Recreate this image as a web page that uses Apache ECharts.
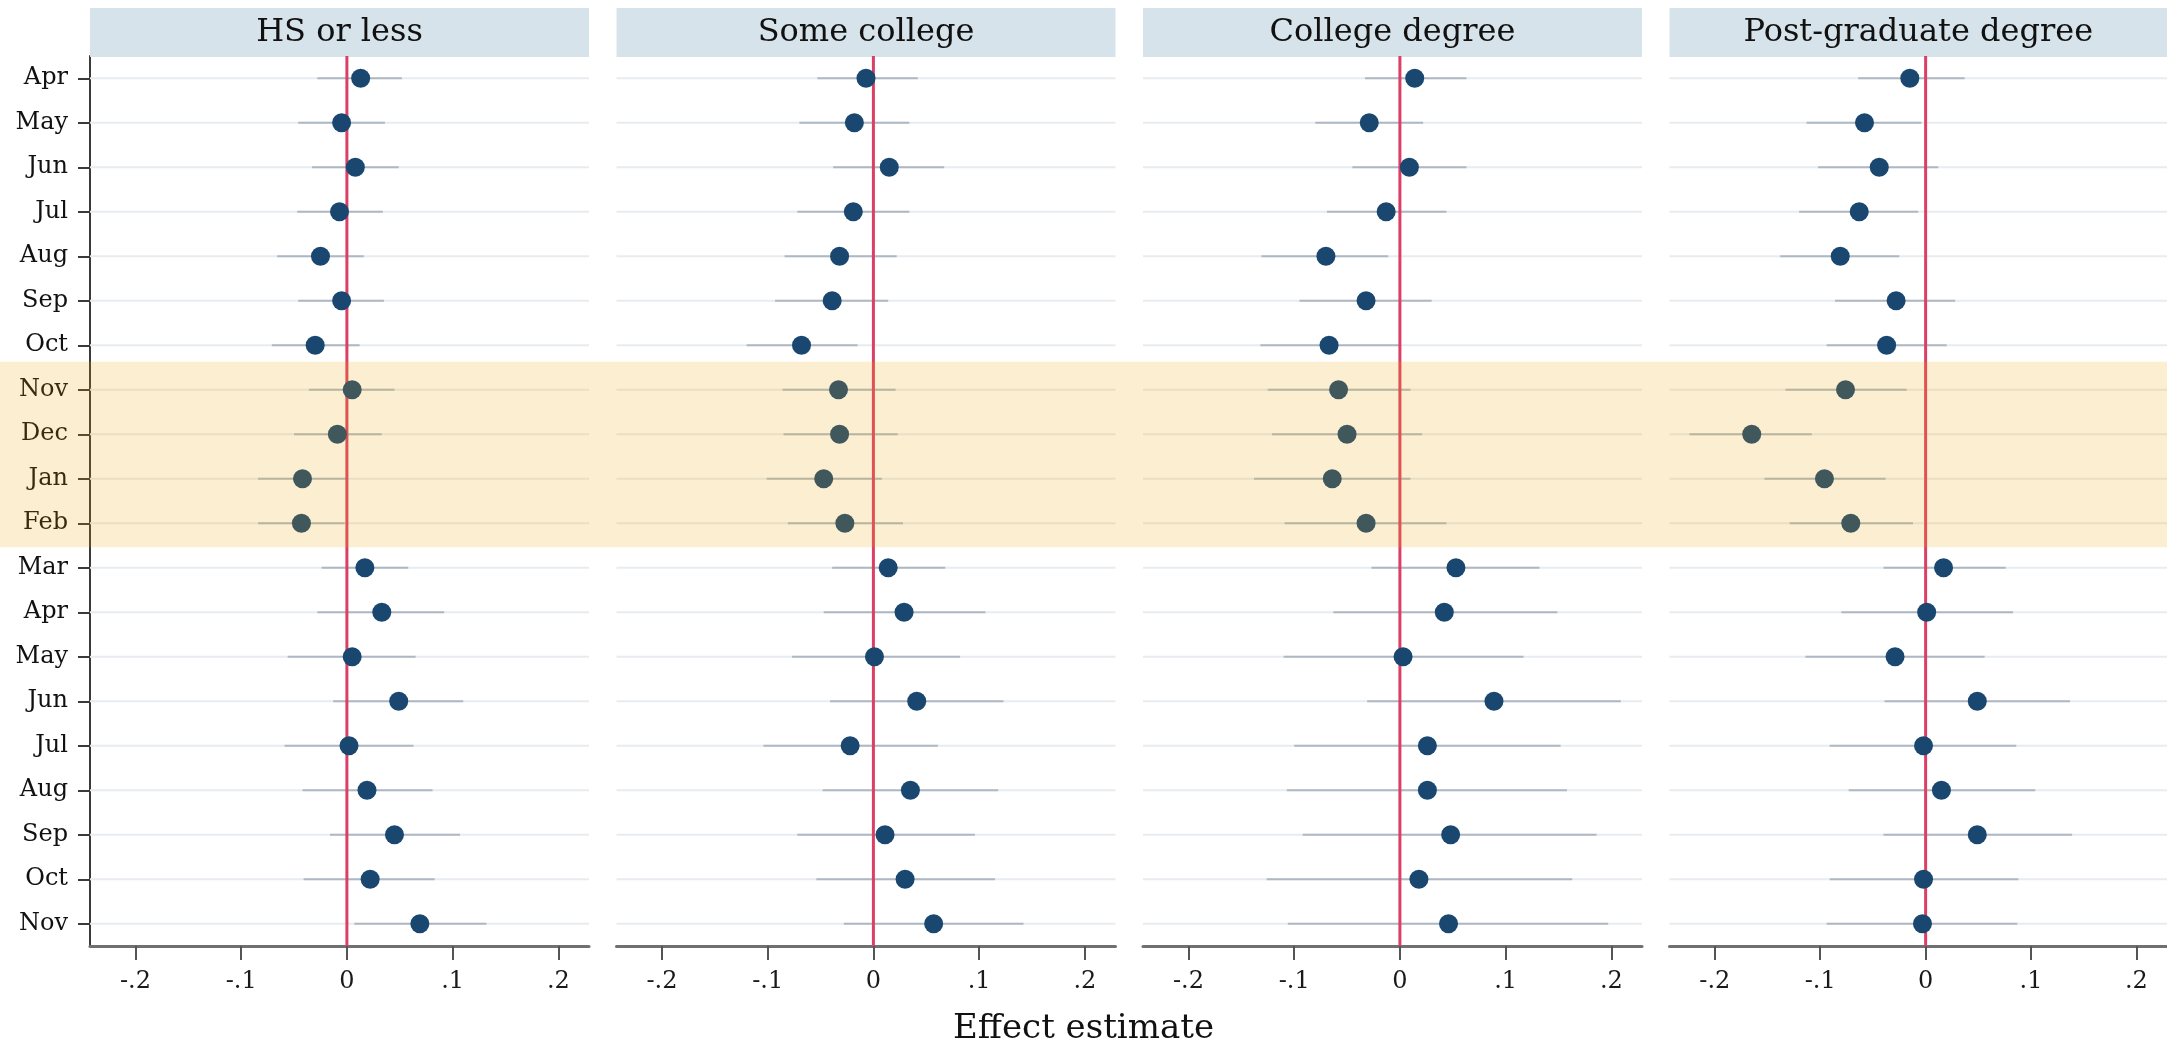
<!DOCTYPE html>
<html><head><meta charset="utf-8">
<script src="https://cdn.jsdelivr.net/npm/echarts@6/dist/echarts.min.js"></script>
<style>html,body{margin:0;padding:0;background:#fff}#c{width:2167px;height:1050px}</style>
</head><body><div id="c"></div>
<script>
// ---------- data ----------
const months = ['Apr','May','Jun','Jul','Aug','Sep','Oct','Nov','Dec','Jan','Feb','Mar','Apr','May','Jun','Jul','Aug','Sep','Oct','Nov'];
const panelNames = ['HS or less','Some college','College degree','Post-graduate degree'];

const estHS = [0.013,-0.005,0.008,-0.007,-0.025,-0.005,-0.030,0.005,-0.009,-0.042,-0.043,0.017,0.033,0.005,0.049,0.002,0.019,0.045,0.022,0.069];
const loHS  = [-0.028,-0.046,-0.033,-0.047,-0.066,-0.046,-0.071,-0.036,-0.050,-0.084,-0.084,-0.024,-0.028,-0.056,-0.013,-0.059,-0.042,-0.016,-0.041,0.007];
const hiHS  = [0.052,0.036,0.049,0.034,0.016,0.035,0.012,0.045,0.033,0.000,-0.002,0.058,0.092,0.065,0.110,0.063,0.081,0.107,0.083,0.132];

const estSC = [-0.007,-0.018,0.015,-0.019,-0.032,-0.039,-0.068,-0.033,-0.032,-0.047,-0.027,0.014,0.029,0.001,0.041,-0.022,0.035,0.011,0.030,0.057];
const loSC  = [-0.053,-0.070,-0.038,-0.072,-0.084,-0.093,-0.120,-0.086,-0.085,-0.101,-0.081,-0.039,-0.047,-0.077,-0.041,-0.104,-0.048,-0.072,-0.054,-0.028];
const hiSC  = [0.042,0.034,0.067,0.034,0.022,0.014,-0.015,0.021,0.023,0.008,0.028,0.068,0.106,0.082,0.123,0.061,0.118,0.096,0.115,0.142];

const estCD = [0.014,-0.029,0.009,-0.013,-0.070,-0.032,-0.067,-0.058,-0.050,-0.064,-0.032,0.053,0.042,0.003,0.089,0.026,0.026,0.048,0.018,0.046];
const loCD  = [-0.033,-0.080,-0.045,-0.069,-0.131,-0.095,-0.132,-0.125,-0.121,-0.138,-0.109,-0.027,-0.063,-0.110,-0.031,-0.100,-0.107,-0.092,-0.126,-0.106];
const hiCD  = [0.063,0.022,0.063,0.044,-0.011,0.030,-0.001,0.010,0.021,0.010,0.044,0.132,0.149,0.117,0.209,0.152,0.158,0.186,0.163,0.197];

const estPG = [-0.015,-0.058,-0.044,-0.063,-0.081,-0.028,-0.037,-0.076,-0.165,-0.096,-0.071,0.017,0.001,-0.029,0.049,-0.002,0.015,0.049,-0.002,-0.003];
const loPG  = [-0.064,-0.113,-0.102,-0.120,-0.138,-0.086,-0.094,-0.133,-0.224,-0.153,-0.129,-0.040,-0.080,-0.114,-0.039,-0.091,-0.073,-0.040,-0.091,-0.094];
const hiPG  = [0.037,-0.004,0.012,-0.007,-0.025,0.028,0.020,-0.018,-0.108,-0.038,-0.012,0.076,0.083,0.056,0.137,0.086,0.104,0.139,0.088,0.087];

const estimates = [estHS, estSC, estCD, estPG];
const lowers = [loHS, loSC, loCD, loPG];
const uppers = [hiHS, hiSC, hiCD, hiPG];

const xTickValues = [-0.2,-0.1,0,0.1,0.2];
const xTickLabels = ['-.2','-.1','0','.1','.2'];
const xMin = -0.243, xMax = 0.229;
const referenceValue = 0;
const shadedRows = [6.37, 10.54]; // Nov–Feb winter band, in row units
const xTitle = 'Effect estimate';

// ---------- layout / style ----------
const FONT = 'DejaVu Serif';
const lefts = [90, 616.5, 1143, 1669.5];
const PW = 499, TOP = 56, PH = 890;
const NAVY = '#1a476f';

const grid = lefts.map(l => ({left: l, top: TOP, width: PW, height: PH}));
grid.push({left: 0, right: 0, top: TOP, height: PH});

const xAxis = [];
lefts.forEach((l, i) => {
  xAxis.push({
    type: 'value', gridIndex: i, min: xMin, max: xMax, position: 'bottom',
    axisLine: {show: true, onZero: false, lineStyle: {color: '#707070', width: 3}},
    axisTick: {show: true, length: 14, customValues: xTickValues, lineStyle: {color: '#555', width: 2}},
    axisLabel: {customValues: xTickValues, margin: 24, fontFamily: FONT, fontSize: 24, color: '#1a1a1a',
      formatter: v => { const k = xTickValues.findIndex(t => Math.abs(t - v) < 1e-9); return k >= 0 ? xTickLabels[k] : ''; }},
    splitLine: {show: false}
  });
});
lefts.forEach((l, i) => {
  xAxis.push({
    type: 'category', gridIndex: i, position: 'top', offset: 23.5, data: [panelNames[i]],
    axisLine: {show: true, onZero: false, lineStyle: {color: '#d7e3ea', width: 49, cap: 'butt'}},
    axisTick: {show: false}, splitLine: {show: false},
    axisLabel: {interval: 0, margin: 0, verticalAlign: 'middle', fontFamily: FONT, fontSize: 32, color: '#111'}
  });
});
xAxis.push({type: 'value', gridIndex: 4, min: 0, max: 1, show: false});

const yAxis = lefts.map((l, i) => ({
  type: 'category', gridIndex: i, data: months, inverse: true,
  axisLine: {show: i === 0, onZero: false, lineStyle: {color: '#3a3a3a', width: 2}},
  axisTick: {show: i === 0, length: 12, alignWithLabel: true, lineStyle: {color: '#3a3a3a', width: 2}},
  axisLabel: {show: i === 0, interval: 0, margin: 22, fontFamily: FONT, fontSize: 24, color: '#111'},
  splitLine: {show: false}
}));
yAxis.push({type: 'value', gridIndex: 4, min: -0.5, max: 19.5, inverse: true, show: false});

const series = [];
lefts.forEach((l, i) => {
  // row grid lines
  series.push({
    type: 'custom', xAxisIndex: i, yAxisIndex: i, z: 1, silent: true,
    data: months.map((m, k) => [xMin, k]),
    encode: {x: 0, y: 1},
    renderItem: (params, api) => {
      const cs = params.coordSys;
      const y = api.coord([api.value(0), api.value(1)])[1];
      return {type: 'line', shape: {x1: cs.x, y1: y, x2: cs.x + cs.width, y2: y},
        style: {stroke: '#e8ecf0', lineWidth: 2}};
    }
  });
  // confidence intervals
  series.push({
    type: 'custom', xAxisIndex: i, yAxisIndex: i, z: 2, silent: true,
    data: months.map((m, k) => [lowers[i][k], uppers[i][k], k]),
    encode: {x: [0, 1], y: 2},
    renderItem: (params, api) => {
      const p1 = api.coord([api.value(0), api.value(2)]);
      const p2 = api.coord([api.value(1), api.value(2)]);
      return {type: 'line', shape: {x1: p1[0], y1: p1[1], x2: p2[0], y2: p2[1]},
        style: {stroke: '#aeb8c3', lineWidth: 2.2}};
    }
  });
  // zero reference line
  series.push({
    type: 'custom', xAxisIndex: i, yAxisIndex: i, z: 3, silent: true,
    data: [[referenceValue, 0]],
    encode: {x: 0, y: 1},
    renderItem: (params, api) => {
      const cs = params.coordSys;
      const x = api.coord([api.value(0), 0])[0];
      return {type: 'line', shape: {x1: x, y1: cs.y, x2: x, y2: cs.y + cs.height},
        style: {stroke: '#dc3f66', lineWidth: 3}};
    }
  });
  // point estimates
  series.push({
    type: 'scatter', xAxisIndex: i, yAxisIndex: i, z: 4, silent: true,
    symbolSize: 19, itemStyle: {color: NAVY, opacity: 1},
    data: estimates[i].map((v, k) => [v, k])
  });
});
// winter shading overlay
series.push({
  type: 'custom', xAxisIndex: 8, yAxisIndex: 4, z: 20, silent: true,
  data: [[0, shadedRows[0], shadedRows[1]]],
  encode: {x: 0, y: [1, 2]},
  renderItem: (params, api) => {
    const cs = params.coordSys;
    const y1 = api.coord([0, api.value(1)])[1];
    const y2 = api.coord([0, api.value(2)])[1];
    return {type: 'rect', shape: {x: cs.x, y: y1, width: cs.width, height: y2 - y1},
      style: {fill: 'rgba(237,166,0,0.18)'}};
  }
});

const chart = echarts.init(document.getElementById('c'), null, {renderer: 'canvas'});
chart.setOption({
  animation: false,
  backgroundColor: '#ffffff',
  title: {text: xTitle, left: 'center', top: 1012, padding: 0,
    textStyle: {fontFamily: FONT, fontSize: 34, fontWeight: 'normal', color: '#111'}},
  grid, xAxis, yAxis, series
});
</script></body></html>
